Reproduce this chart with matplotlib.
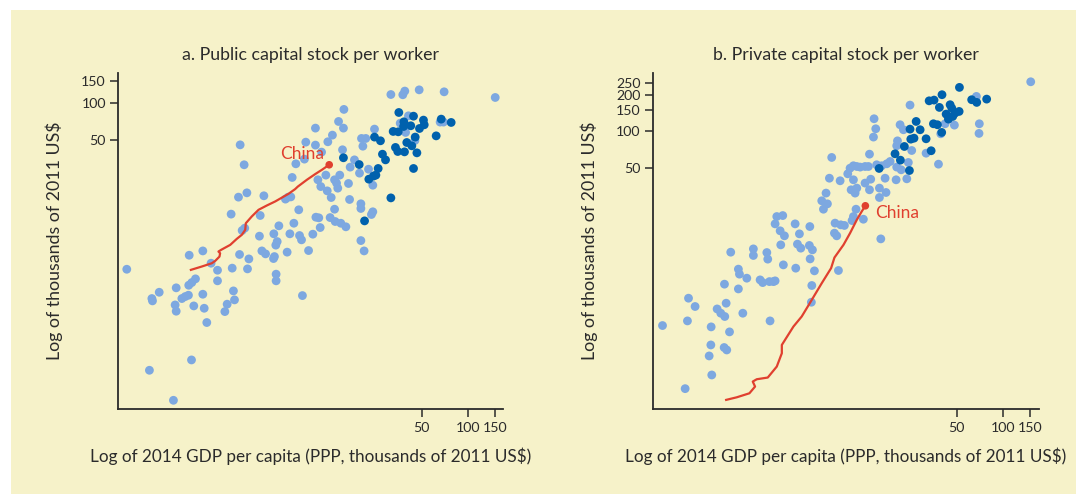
import numpy as np
import matplotlib.pyplot as plt
from matplotlib.patches import Rectangle

# all values are log10 of thousands of 2011 US$
pub_light_x = [-0.229, -0.081, 0.076, 0.194, -0.065, -0.061, -0.017, 0.094, 0.087, 0.094,
               0.131, 0.153, 0.174, 0.179, 0.176, 0.196, 0.220, 0.209, 0.268, 0.268,
               0.277, 0.294, 0.322, 0.364, 0.364, 0.412, 0.427, 0.453, 0.460, 0.468,
               0.475, 0.501, 0.508, 0.512, 0.525, 0.542, 0.538, 0.556, 0.560, 0.569,
               0.643, 0.638, 0.654, 0.678, 0.667, 0.730, 0.736, 0.732, 0.745, 0.754,
               0.747, 0.747, 0.765, 0.808, 0.826, 0.843, 0.819, 0.837, 0.852, 0.863,
               0.876, 0.895, 0.900, 0.913, 0.919, 0.941, 0.959, 0.987, 1.004, 1.004,
               1.007, 1.026, 1.020, 1.035, 1.039, 1.044, 1.072, 1.081, 1.085, 1.100,
               1.107, 1.115, 1.129, 1.142, 1.150, 1.129, 1.133, 1.155, 1.163, 1.170,
               1.181, 1.190, 1.187, 1.203, 1.220, 1.227, 1.231, 1.259, 1.292, 1.305,
               1.333, 1.301, 1.301, 1.301, 1.314, 1.322, 1.351, 1.370, 1.379, 1.379,
               1.390, 1.497, 1.575, 1.588, 1.593, 1.612, 1.654, 1.682, 1.819, 1.841,
               1.845, 2.179, 0.932, 1.558]
pub_light_y = [0.650, -0.171, -0.415, -0.087, 0.412, 0.393, 0.463, 0.499, 0.360, 0.309,
               0.412, 0.428, 0.439, 0.764, 0.520, 0.542, 0.572, 0.352, 0.799, 0.447,
               0.333, 0.217, 0.699, 0.642, 0.556, 0.306, 0.366, 1.098, 0.659, 0.474,
               0.401, 1.236, 0.770, 1.661, 0.965, 0.984, 1.499, 1.271, 0.653, 0.734,
               1.087, 0.919, 0.799, 0.775, 1.247, 0.737, 0.753, 0.938, 0.846, 0.875,
               0.610, 0.556, 1.003, 1.220, 1.236, 1.238, 0.789, 0.938, 1.396, 1.024,
               1.507, 1.133, 0.924, 0.889, 0.436, 1.683, 0.802, 0.935, 1.797, 1.659,
               1.073, 1.068, 1.377, 0.989, 1.322, 1.602, 1.415, 1.287, 1.686, 1.070,
               1.233, 1.740, 1.377, 1.350, 1.309, 1.138, 1.038, 1.851, 1.415, 1.024,
               1.621, 1.949, 1.797, 0.995, 1.347, 1.217, 1.480, 1.539, 1.431, 1.713,
               1.713, 1.182, 1.144, 0.883, 1.650, 0.799, 1.463, 1.095, 1.117, 1.333,
               1.789, 2.070, 2.068, 2.098, 1.762, 1.897, 1.696, 2.108, 1.846, 1.846,
               2.092, 2.046, 1.545, 1.837]
pub_dark_x = [1.549, 1.645, 1.582, 1.580, 1.627, 1.710, 1.715, 1.684, 1.512, 1.545,
              1.656, 1.527, 1.542, 1.586, 1.601, 1.634, 1.667, 1.793, 1.826, 1.891,
              1.390, 1.429, 1.442, 1.462, 1.187, 1.290, 1.414, 1.353, 1.383, 1.399,
              1.497, 1.645, 1.325]
pub_dark_y = [1.924, 1.894, 1.848, 1.810, 1.816, 1.862, 1.824, 1.794, 1.770, 1.767,
              1.724, 1.640, 1.607, 1.604, 1.680, 1.653, 1.596, 1.734, 1.870, 1.843,
              1.724, 1.694, 1.585, 1.539, 1.556, 1.501, 1.469, 1.382, 1.407, 1.415,
              1.230, 1.469, 1.043]
china_pub_x = [0.190, 0.261, 0.327, 0.349, 0.377, 0.381, 0.370, 0.388, 0.447, 0.490,
               0.523, 0.545, 0.549, 0.588, 0.632, 0.686, 0.741, 0.828, 0.871, 0.889,
               0.948, 1.002, 1.046, 1.094]
china_pub_y = [0.645, 0.672, 0.699, 0.718, 0.753, 0.780, 0.794, 0.808, 0.848, 0.897,
               0.930, 0.970, 1.024, 1.079, 1.133, 1.168, 1.201, 1.263, 1.301, 1.322,
               1.377, 1.423, 1.458, 1.499]

priv_light_x = [-0.224, -0.076, -0.061, -0.054, -0.011, 0.081, 0.092, 0.098, 0.094, 0.133,
                0.157, 0.183, 0.179, 0.196, 0.181, 0.192, 0.214, 0.222, 0.272, 0.279,
                0.272, 0.301, 0.327, 0.370, 0.370, 0.414, 0.431, 0.458, 0.464, 0.479,
                0.475, 0.501, 0.512, 0.512, 0.523, 0.562, 0.545, 0.573, 0.549, 0.566,
                0.643, 0.647, 0.658, 0.671, 0.680, 0.736, 0.756, 0.739, 0.741, 0.752,
                0.749, 0.769, 0.817, 0.828, 0.854, 0.845, 0.867, 0.882, 0.904, 0.900,
                0.915, 0.926, 0.937, 0.941, 0.965, 0.987, 1.002, 1.024, 1.046, 1.068,
                1.100, 1.122, 1.024, 1.009, 1.046, 1.035, 1.041, 1.024, 1.089, 1.100,
                1.137, 1.129, 1.129, 1.159, 1.170, 1.155, 1.176, 1.209, 1.242, 1.264,
                1.194, 1.194, 1.203, 1.231, 1.237, 1.303, 1.307, 1.336, 1.329, 1.312,
                1.307, 1.351, 1.373, 1.383, 1.394, 1.405, 1.499, 1.580, 1.595, 1.623,
                1.684, 1.828, 1.847, 1.845, 2.183, 1.015]
priv_light_y = [0.410, -0.107, 0.448, 0.634, 0.566, 0.161, 0.251, 0.005, 0.399, 0.546,
                0.511, 0.484, 0.230, 0.210, 0.749, 0.593, 0.358, 1.011, 0.872, 0.831,
                0.710, 0.511, 0.798, 1.038, 0.984, 0.784, 0.762, 1.008, 0.954, 0.448,
                0.770, 0.770, 0.776, 1.243, 1.303, 1.311, 1.186, 1.145, 1.071, 0.907,
                1.243, 0.880, 1.077, 1.161, 1.044, 1.066, 1.030, 1.221, 0.956, 0.738,
                0.601, 0.858, 1.432, 1.363, 1.407, 1.495, 1.617, 1.787, 1.249, 1.167,
                1.145, 0.861, 1.596, 1.235, 1.230, 1.653, 1.699, 1.719, 1.713, 1.708,
                1.713, 1.713, 1.604, 1.522, 1.536, 1.495, 1.363, 1.303, 1.281, 1.577,
                1.609, 1.522, 1.814, 2.104, 2.022, 1.954, 1.727, 1.719, 1.735, 1.754,
                1.536, 1.459, 1.120, 1.617, 1.500, 1.604, 1.708, 1.686, 2.055, 1.923,
                1.883, 2.014, 1.612, 1.746, 2.216, 1.844, 1.822, 1.732, 1.981, 2.063,
                2.052, 2.287, 2.063, 1.984, 2.407, 1.270]
priv_dark_x = [1.717, 1.603, 1.519, 1.551, 1.586, 1.656, 1.667, 1.715, 1.630, 1.645,
               1.673, 1.688, 1.797, 1.830, 1.895, 1.547, 1.573, 1.601, 1.434, 1.394,
               1.460, 1.399, 1.420, 1.499, 1.357, 1.532, 1.296, 1.331, 1.390, 1.192]
priv_dark_y = [2.361, 2.301, 2.251, 2.257, 2.197, 2.219, 2.191, 2.164, 2.142, 2.101,
               2.123, 2.150, 2.260, 2.238, 2.265, 2.063, 2.055, 1.992, 2.082, 2.019,
               2.014, 1.937, 1.945, 1.940, 1.877, 1.842, 1.817, 1.765, 1.680, 1.697]
china_priv_x = [0.192, 0.261, 0.344, 0.381, 0.366, 0.392, 0.464, 0.523, 0.556, 0.556,
                0.632, 0.686, 0.741, 0.817, 0.878, 0.900, 0.959, 1.002, 1.046, 1.078,
                1.102]
china_priv_y = [-0.199, -0.178, -0.145, -0.090, -0.049, -0.030, -0.016, 0.074, 0.183, 0.251,
                0.402, 0.484, 0.598, 0.757, 0.880, 0.967, 1.071, 1.167, 1.276, 1.344,
                1.391]

x_ticks = [50, 100, 150]
pub_y_ticks = [50, 100, 150]
priv_y_ticks = [50, 100, 150, 200, 250]

bg = '#f6f2c9'
light = '#7da8e0'
dark = '#0061ad'
red = '#e0402f'
ink = '#2b2b2b'

plt.rcParams['font.family'] = ['Lato', 'DejaVu Sans']

fig = plt.figure(figsize=(10.76, 4.94), dpi=100, facecolor='white')
fig.add_artist(Rectangle((11 / 1076, 0), 1 - 11 / 1076, 1 - 10 / 494,
                         transform=fig.transFigure, facecolor=bg, edgecolor='none', zorder=-10))

ax1 = fig.add_axes([0.110, 0.1715, 0.3575, 0.681])
ax2 = fig.add_axes([0.6069, 0.1715, 0.3587, 0.681])


def style(ax, yticks, xlim, ylim, title):
    ax.set_facecolor('none')
    for s in ['top', 'right']:
        ax.spines[s].set_visible(False)
    for s in ['left', 'bottom']:
        ax.spines[s].set_color(ink)
        ax.spines[s].set_linewidth(1.3)
    ax.set_xlim(*xlim)
    ax.set_ylim(*ylim)
    ax.set_xticks(np.log10(x_ticks))
    ax.set_xticklabels([str(v) for v in x_ticks])
    ax.set_yticks(np.log10(yticks))
    ax.set_yticklabels([str(v) for v in yticks])
    ax.tick_params(direction='out', length=6, width=1.1, color=ink,
                   labelsize=10.2, labelcolor=ink, pad=3)
    ax.set_title(title, fontsize=12.8, color=ink, pad=9)
    ax.set_xlabel('Log of 2014 GDP per capita (PPP, thousands of 2011 US$)',
                  fontsize=12.3, color=ink, labelpad=10)
    ax.set_ylabel('Log of thousands of 2011 US$', fontsize=12.8, color=ink, labelpad=13)


ax1.scatter(pub_light_x, pub_light_y, s=40, color=light, edgecolors='none', zorder=2)
ax1.scatter(pub_dark_x, pub_dark_y, s=40, color=dark, edgecolors='none', zorder=3)
ax1.plot(china_pub_x, china_pub_y, color=red, lw=1.6, zorder=4)
ax1.scatter(china_pub_x[-1:], china_pub_y[-1:], s=30, color=red, edgecolors='none', zorder=5)
ax1.annotate('China', (china_pub_x[-1], china_pub_y[-1]), xytext=(-4, 8),
             textcoords='offset points', ha='right', va='center', color=red, fontsize=12.5)
style(ax1, pub_y_ticks, (-0.284, 2.230), (-0.488, 2.246), 'a. Public capital stock per worker')

ax2.scatter(priv_light_x, priv_light_y, s=40, color=light, edgecolors='none', zorder=2)
ax2.scatter(priv_dark_x, priv_dark_y, s=40, color=dark, edgecolors='none', zorder=3)
ax2.plot(china_priv_x, china_priv_y, color=red, lw=1.6, zorder=4)
ax2.scatter(china_priv_x[-1:], china_priv_y[-1:], s=30, color=red, edgecolors='none', zorder=5)
ax2.annotate('China', (china_priv_x[-1], china_priv_y[-1]), xytext=(7, -5),
             textcoords='offset points', ha='left', va='center', color=red, fontsize=12.5)
style(ax2, priv_y_ticks, (-0.286, 2.237), (-0.276, 2.480), 'b. Private capital stock per worker')

fig.savefig('out.png', dpi=100, facecolor='white')
